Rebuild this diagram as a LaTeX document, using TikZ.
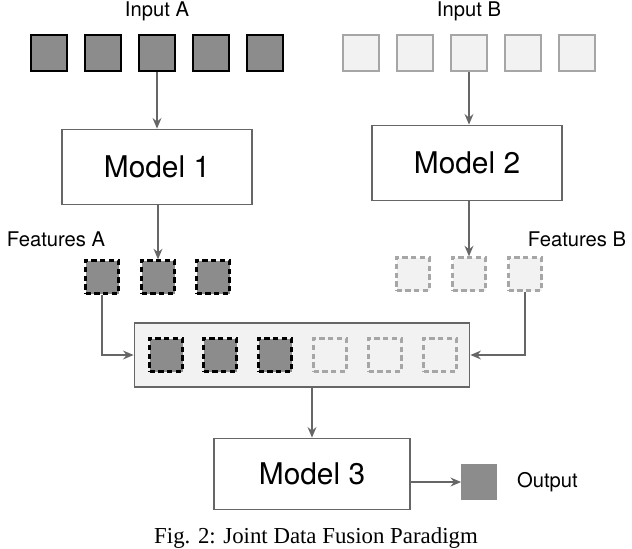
\documentclass[tikz,border=0pt]{standalone}
\usepackage{fontspec}
\setmainfont{TeX Gyre Heros}
\newfontfamily\capfont{Liberation Serif}
\usetikzlibrary{arrows.meta,positioning}
\definecolor{darkcell}{HTML}{8C8C8C}
\definecolor{lightcell}{HTML}{F2F2F2}
\definecolor{linegray}{HTML}{666666}
\tikzset{
    cellA/.style={draw=black, fill=darkcell, line width=1.3pt, minimum size=36*0.02cm, inner sep=0pt},
    cellB/.style={draw=gray!70, fill=lightcell, line width=1.3pt, minimum size=36*0.02cm, inner sep=0pt},
    featA/.style={cellA, dash pattern=on 3pt off 2pt, minimum size=33*0.02cm},
    featB/.style={cellB, dash pattern=on 3pt off 2pt, minimum size=33*0.02cm},
    model/.style={draw=linegray, line width=1pt, minimum width=190*0.02cm, minimum height=75*0.02cm, font=\fontsize{17}{20}\selectfont},
    link/.style={draw=linegray, line width=1pt, -{Stealth[length=6pt,width=5pt]}},
    lbl/.style={font=\fontsize{11.5}{13}\selectfont},
}
\begin{document}
\begin{tikzpicture}[x=0.02cm, y=-0.02cm]
    \useasboundingbox (0,0) rectangle (632,548);
    % inputs
    \foreach \i/\x in {1/49,2/103,3/157,4/211,5/265}
        \node[cellA] (a\i) at (\x,53) {};
    \foreach \i/\x in {1/361,2/415,3/469,4/523,5/577}
        \node[cellB] (b\i) at (\x,53) {};
    \node[lbl] (inA) at (157,11) {Input A};
    \node[lbl] (inB) at (469,11) {Input B};
    % models
    \node[model] (m1) at (157,167) {Model 1};
    \node[model] (m2) at (467,163) {Model 2};
    \draw[link] (a3) -- (a3 |- m1.north);
    \draw[link] (b3) -- (b3 |- m2.north);
    % features
    \foreach \i/\x in {1/102,2/158,3/213}
        \node[featA] (fa\i) at (\x,277) {};
    \foreach \i/\x in {1/413,2/469,3/525}
        \node[featB] (fb\i) at (\x,274) {};
    \node[lbl] (labA) at (56,239) {Features A};
    \node[lbl] (labB) at (577,239) {Features B};
    \draw[link] (m1.south -| fa2) -- (fa2);
    \draw[link] (m2.south -| fb2) -- (fb2);
    % joint vector
    \node[draw=linegray, fill=lightcell, line width=1pt, minimum width=335*0.02cm, minimum height=64*0.02cm] (joint) at (302,355) {};
    \foreach \i/\x in {1/166,2/220,3/275}
        \node[featA] (ja\i) at (\x,355) {};
    \foreach \i/\x in {1/330,2/385,3/440}
        \node[featB] (jb\i) at (\x,355) {};
    \draw[link] (fa1.south) |- (joint.west);
    \draw[link] (fb3.south) |- (joint.east);
    % fusion model and output
    \node[model, minimum width=196*0.02cm, minimum height=71*0.02cm] (m3) at (312,474) {Model 3};
    \draw[link] (joint.south -| m3) -- (m3);
    \node[draw=darkcell, fill=darkcell, minimum size=35*0.02cm, inner sep=0pt] (out) at (479,482) {};
    \node[lbl, right=8pt of out] (outlbl) {Output};
    \draw[link] (m3.east |- out) -- (out);
    \node[font=\capfont\fontsize{13}{15}\selectfont] (cap) at (316,538) {Fig. 2: Joint Data Fusion Paradigm};
\end{tikzpicture}
\end{document}
